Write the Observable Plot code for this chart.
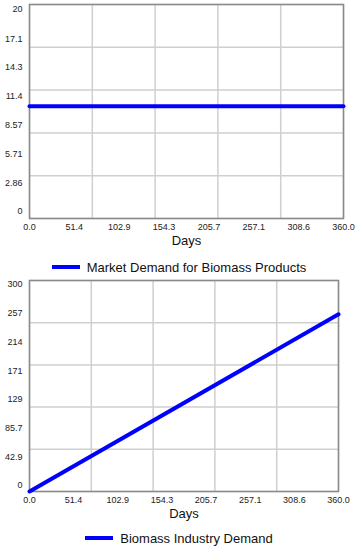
<!DOCTYPE html>
<html>
<head>
<meta charset="utf-8">
<script src="https://cdn.jsdelivr.net/npm/d3@7"></script>
<script src="https://cdn.jsdelivr.net/npm/@observablehq/plot@0.6"></script>
<style>
  html, body { margin: 0; padding: 0; background: white; }
  #wrap { position: relative; width: 358px; height: 550px; font-family: "Liberation Sans", Arial, sans-serif; }
  .chart { position: absolute; left: 0; }
  .legend { position: absolute; left: 0; width: 358px; height: 20px; display: flex; align-items: center; justify-content: center; font-size: 13px; color: #111; }
  .legend .sw { display: inline-block; width: 28px; height: 4px; background: #0000ff; margin-right: 7px; }
</style>
</head>
<body>
<div id="wrap"></div>
<script>
// ---- data ----
const days = [0, 360];
const marketDemand = [10.5, 10.5];
const industryDemand = [0, 252];

const xTickLabels = [0, 51.4, 102.9, 154.3, 205.7, 257.1, 308.6, 360.0];
const xGrid = [0, 72, 144, 216, 288, 360];

const topYLabels = [0, 2.86, 5.71, 8.57, 11.4, 14.3, 17.1, 20];
const topYGrid = [0, 4, 8, 12, 16, 20];

const bottomYLabels = [0, 42.9, 85.7, 129, 171, 214, 257, 300];
const bottomYGrid = [0, 60, 120, 180, 240, 300];

const seriesNames = ["Market Demand for Biomass Products", "Biomass Industry Demand"];

const FONT = "'Liberation Sans', Arial, sans-serif";

function makeChart({values, yMax, yGrid, yLabels, height, marginTop, marginBottom, marginRight, insetBottom, insetTop}) {
  const plotH = height - marginTop - marginBottom;
  const lo = insetBottom / plotH * yMax;
  const hi = yMax - insetTop / plotH * yMax;
  const labelPos = v => lo + v / yMax * (hi - lo);
  const pts = days.map((d, i) => ({day: d, v: values[i]}));
  return Plot.plot({
    width: 358,
    height,
    marginLeft: 29,
    marginRight,
    marginTop,
    marginBottom,
    x: {domain: [0, 360]},
    y: {domain: [0, yMax], axis: null},
    style: {fontFamily: FONT, fontSize: "9px", color: "#222", background: "white", overflow: "visible"},
    marks: [
      Plot.gridX(xGrid, {stroke: "#cfcfcf", strokeOpacity: 1, strokeWidth: 1.5}),
      Plot.gridY(yGrid, {stroke: "#cfcfcf", strokeOpacity: 1, strokeWidth: 1.5}),
      Plot.frame({stroke: "#8a8a8a", strokeWidth: 1.5}),
      Plot.axisX(xTickLabels, {tickSize: 0, tickPadding: 5, tickFormat: d => d.toFixed(1), label: null, fill: "#222"}),
      Plot.text(yLabels, {y: d => labelPos(d), text: d => String(d), frameAnchor: "left", dx: -7, textAnchor: "end", fill: "#222"}),
      Plot.text(["Days"], {frameAnchor: "bottom", dy: 26, fontSize: 13, fill: "#111"}),
      Plot.line(pts, {x: "day", y: "v", stroke: "#0000ff", strokeWidth: 4})
    ]
  });
}

const wrap = document.getElementById("wrap");

const c1 = makeChart({values: marketDemand, yMax: 20, yGrid: topYGrid, yLabels: topYLabels,
  height: 254, marginTop: 4, marginBottom: 36, marginRight: 15, insetBottom: 7, insetTop: 5});
c1.classList.add("chart"); c1.style.top = "0px";
wrap.appendChild(c1);

const l1 = document.createElement("div");
l1.className = "legend"; l1.style.top = "257px";
l1.innerHTML = `<span class="sw"></span><span>${seriesNames[0]}</span>`;
wrap.appendChild(l1);

const c2 = makeChart({values: industryDemand, yMax: 300, yGrid: bottomYGrid, yLabels: bottomYLabels,
  height: 254, marginTop: 4, marginBottom: 39, marginRight: 20, insetBottom: 6, insetTop: 4});
c2.classList.add("chart"); c2.style.top = "276px";
wrap.appendChild(c2);

const l2 = document.createElement("div");
l2.className = "legend"; l2.style.top = "528px";
l2.innerHTML = `<span class="sw"></span><span>${seriesNames[1]}</span>`;
wrap.appendChild(l2);
</script>
</body>
</html>
